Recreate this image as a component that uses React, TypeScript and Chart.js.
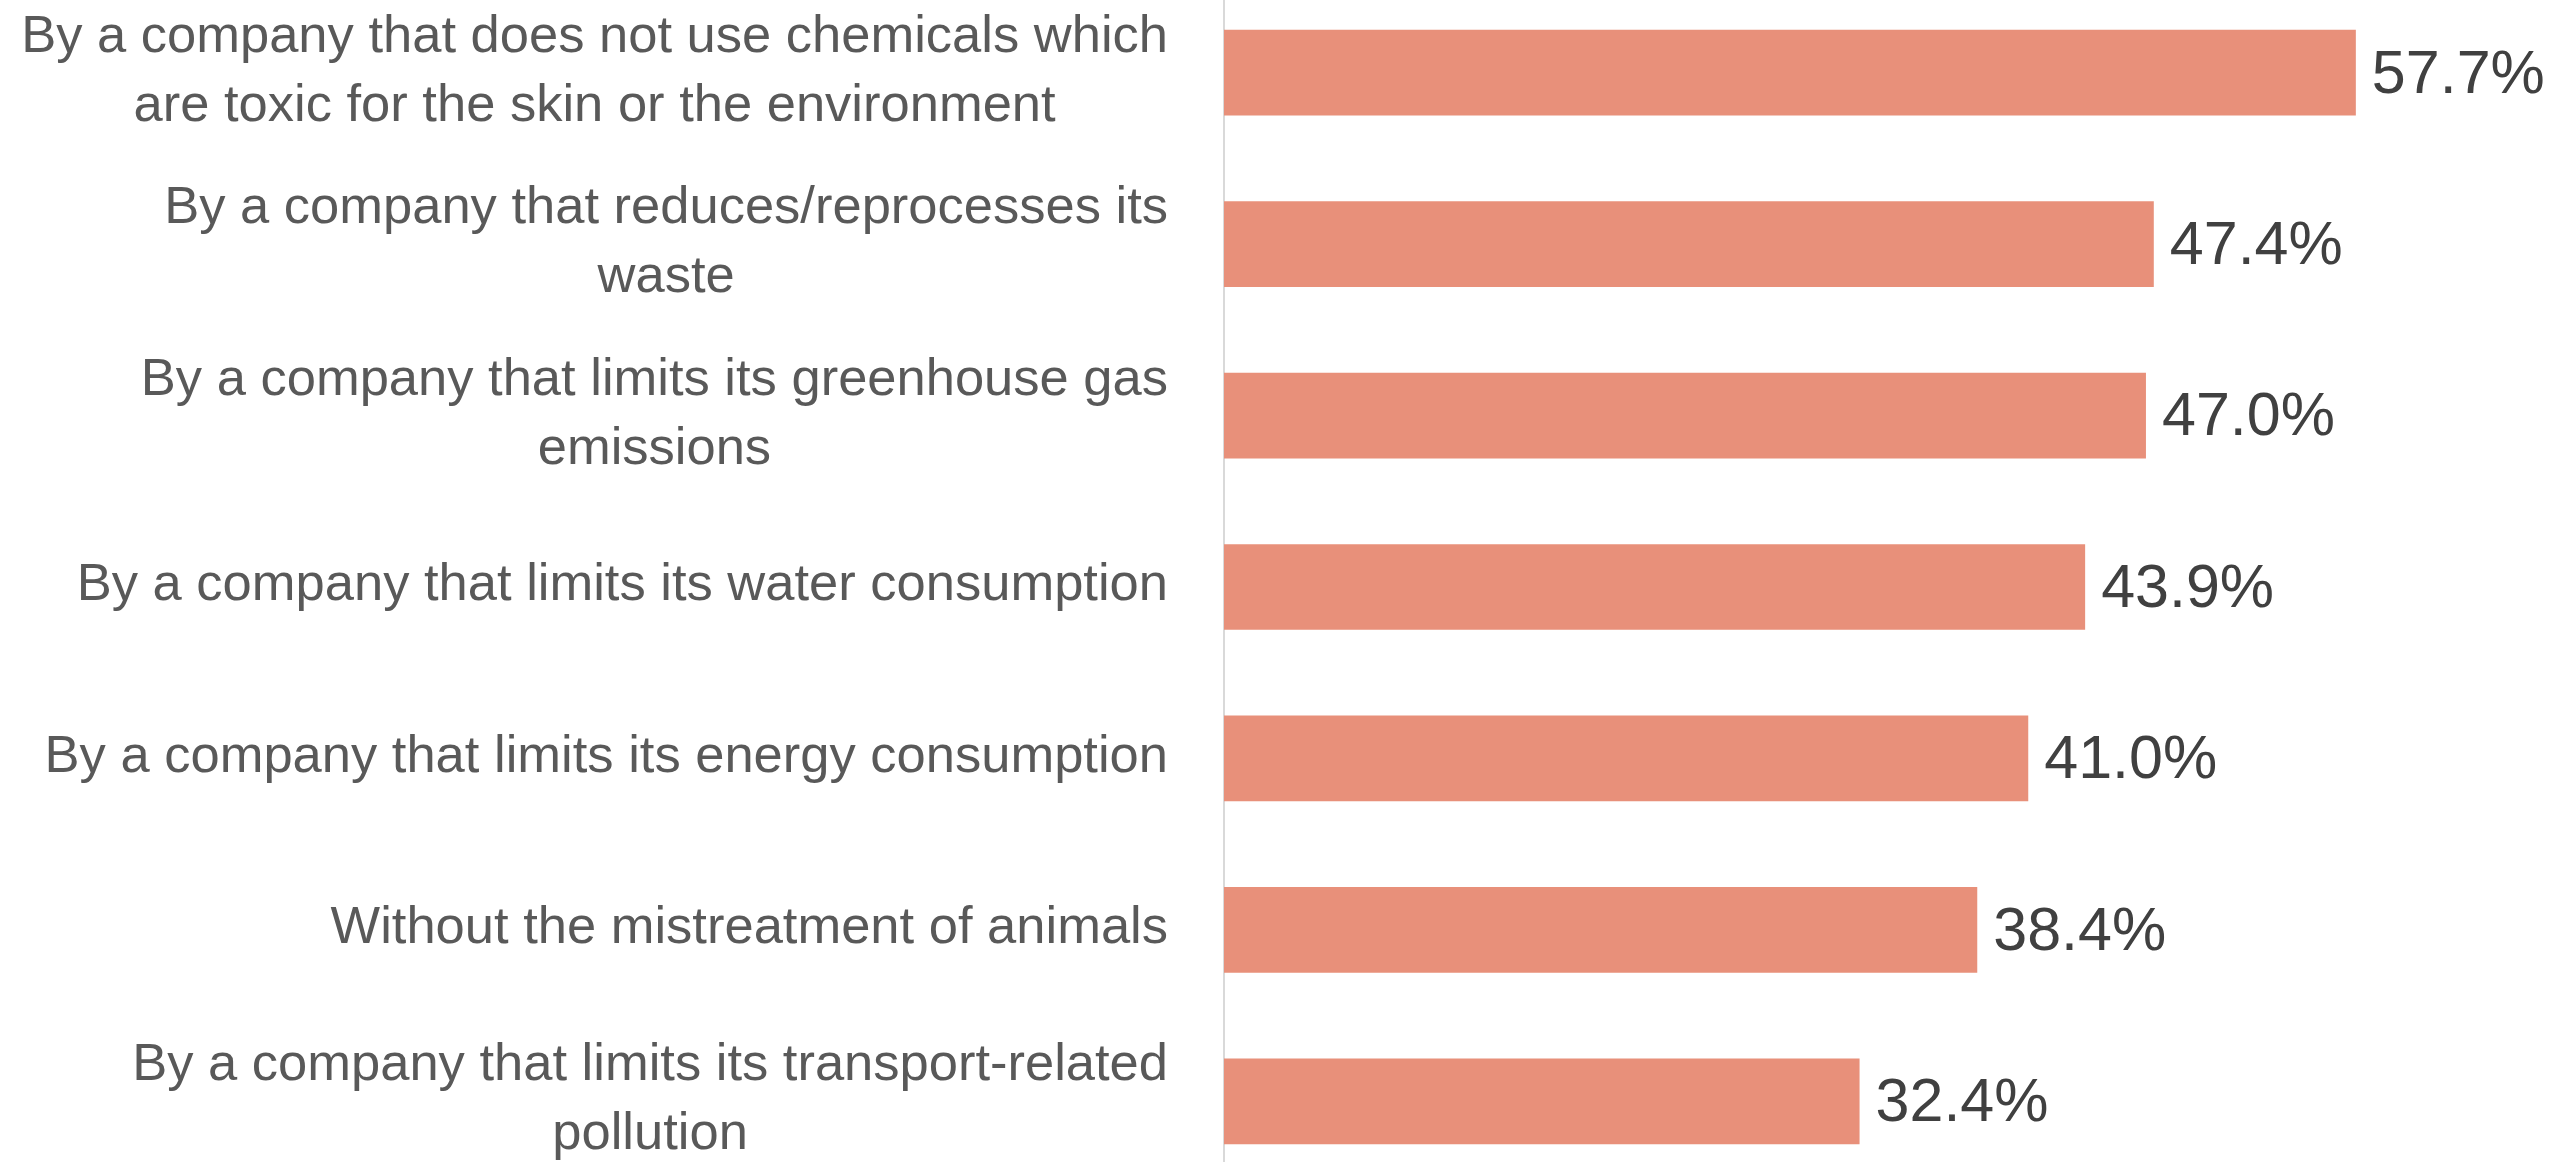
import React, { useEffect, useRef } from "react";
import { Chart, registerables } from "chart.js";

Chart.register(...registerables);

const categories: string[][] = [
  ["By a company that does not use chemicals which", "are toxic for the skin or the environment"],
  ["By a company that reduces/reprocesses its", "waste"],
  ["By a company that limits its greenhouse gas", "emissions"],
  ["By a company that limits its water consumption"],
  ["By a company that limits its energy consumption"],
  ["Without the mistreatment of animals"],
  ["By a company that limits its transport-related", "pollution"],
];

const values: number[] = [57.7, 47.4, 47.0, 43.9, 41.0, 38.4, 32.4];

const BAR_COLOR = "#E8907A";
const LABEL_COLOR = "#595959";
const VALUE_COLOR = "#404040";
const AXIS_COLOR = "#D9D9D9";
const FONT = "'Liberation Sans', Arial, sans-serif";

const labelsPlugin = {
  id: "customLabels",
  afterDatasetsDraw(chart: any) {
    const ctx = chart.ctx;
    const yScale = chart.scales.y;
    const meta = chart.getDatasetMeta(0);
    ctx.save();
    // value labels
    ctx.font = `61px ${FONT}`;
    ctx.fillStyle = VALUE_COLOR;
    ctx.textAlign = "left";
    ctx.textBaseline = "middle";
    meta.data.forEach((bar: any, i: number) => {
      ctx.fillText(values[i].toFixed(1) + "%", bar.x + 16, bar.y + 3);
    });
    // category labels: right-aligned block, centered lines
    ctx.font = `52.5px ${FONT}`;
    ctx.fillStyle = LABEL_COLOR;
    ctx.textAlign = "center";
    const lineH = 69;
    const rightEdge = yScale.right - 56;
    categories.forEach((lines, i) => {
      const cy = yScale.getPixelForValue(i) - 1;
      const w = Math.max(...lines.map((l) => ctx.measureText(l).width));
      const cx = rightEdge - w / 2;
      const start = cy - ((lines.length - 1) * lineH) / 2;
      lines.forEach((l, k) => ctx.fillText(l, cx, start + k * lineH));
    });
    ctx.restore();
  },
};

export default function App() {
  const ref = useRef<HTMLCanvasElement | null>(null);
  useEffect(() => {
    document.body.style.margin = "0";
    if (!ref.current) return;
    const chart = new Chart(ref.current, {
      type: "bar",
      data: {
        labels: categories.map((c) => c.join(" ")),
        datasets: [
          {
            data: values,
            backgroundColor: BAR_COLOR,
            borderWidth: 0,
            barPercentage: 0.5,
            categoryPercentage: 1,
          },
        ],
      },
      options: {
        indexAxis: "y",
        responsive: false,
        animation: false,
        layout: { padding: 0 },
        plugins: { legend: { display: false }, tooltip: { enabled: false } },
        scales: {
          x: { display: false, min: 0, max: 67.7 },
          y: {
            ticks: { display: false },
            grid: { display: false },
            border: { display: true, color: AXIS_COLOR, width: 2 },
            afterFit: (s: any) => {
              s.width = 1224;
            },
          },
        },
      },
      plugins: [labelsPlugin],
    });
    return () => chart.destroy();
  }, []);
  return (
    <div
      style={{
        position: "fixed",
        left: 0,
        top: 0,
        width: 2552,
        height: 1162,
        overflow: "hidden",
        background: "#fff",
      }}
    >
      <canvas
        ref={ref}
        width={2552}
        height={1200}
        style={{ position: "absolute", left: 0, top: -13, width: 2552, height: 1200 }}
      />
    </div>
  );
}
